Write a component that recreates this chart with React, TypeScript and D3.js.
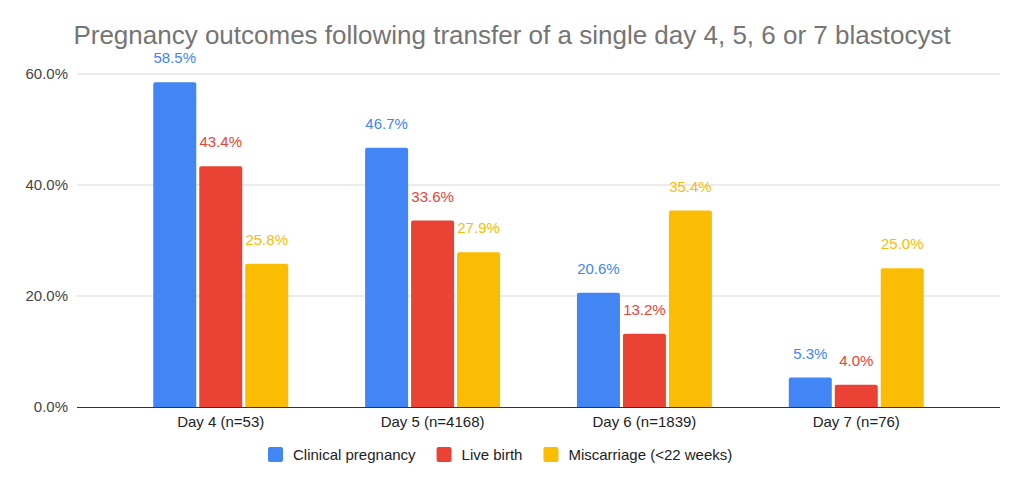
import React, { useEffect, useRef } from "react";
import * as d3 from "d3";

const categories = ["Day 4 (n=53)", "Day 5 (n=4168)", "Day 6 (n=1839)", "Day 7 (n=76)"];
const seriesNames = ["Clinical pregnancy", "Live birth", "Miscarriage (<22 weeks)"];
const clinicalPregnancy = [58.5, 46.7, 20.6, 5.3];
const liveBirth = [43.4, 33.6, 13.2, 4.0];
const miscarriage = [25.8, 27.9, 35.4, 25.0];
const yTicks = [0, 20, 40, 60];
const colors = ["#4285F4", "#EA4335", "#FBBC04"];

const W = 1024;
const H = 487;
const FONT = "Arial, 'Liberation Sans', sans-serif";

export default function App() {
  const ref = useRef<SVGSVGElement | null>(null);

  useEffect(() => {
    const svg = d3.select(ref.current);
    svg.selectAll("*").remove();

    const series = [clinicalPregnancy, liveBirth, miscarriage];
    const left = 77;
    const right = 1000;
    const top = 74;
    const bottom = 407;

    const y = d3.scaleLinear().domain([0, 60]).range([bottom, top]);
    const x0 = d3
      .scaleBand<string>()
      .domain(categories)
      .range([left, right])
      .paddingInner(0.363)
      .paddingOuter(0.36);
    const x1 = d3
      .scaleBand<number>()
      .domain([0, 1, 2])
      .range([0, x0.bandwidth()])
      .paddingInner(0.065)
      .paddingOuter(0);

    // Title
    svg
      .append("text")
      .attr("x", 512)
      .attr("y", 44)
      .attr("text-anchor", "middle")
      .attr("font-family", FONT)
      .attr("font-size", 26)
      .attr("fill", "#757575")
      .text("Pregnancy outcomes following transfer of a single day 4, 5, 6 or 7 blastocyst");

    // Gridlines and y tick labels
    const grid = svg.append("g");
    yTicks.forEach((t) => {
      if (t !== 0) {
        grid
          .append("line")
          .attr("x1", left)
          .attr("x2", right)
          .attr("y1", y(t))
          .attr("y2", y(t))
          .attr("stroke", "#d9d9d9")
          .attr("stroke-width", 1);
      }
      grid
        .append("text")
        .attr("x", 68)
        .attr("y", y(t) + 5)
        .attr("text-anchor", "end")
        .attr("font-family", FONT)
        .attr("font-size", 15)
        .attr("fill", "#444")
        .text(`${t.toFixed(1)}%`);
    });

    // Bars
    const r = 2;
    const bars = svg.append("g");
    categories.forEach((cat, ci) => {
      series.forEach((vals, si) => {
        const v = vals[ci];
        const bx = (x0(cat) ?? 0) + (x1(si) ?? 0);
        const bw = x1.bandwidth();
        const by = y(v);
        const bh = bottom - by;
        const p = d3.path();
        p.moveTo(bx, bottom);
        p.lineTo(bx, by + r);
        p.quadraticCurveTo(bx, by, bx + r, by);
        p.lineTo(bx + bw - r, by);
        p.quadraticCurveTo(bx + bw, by, bx + bw, by + r);
        p.lineTo(bx + bw, bottom);
        p.closePath();
        if (bh > 0) bars.append("path").attr("d", p.toString()).attr("fill", colors[si]);
        bars
          .append("text")
          .attr("x", bx + bw / 2)
          .attr("y", by - 19)
          .attr("text-anchor", "middle")
          .attr("font-family", FONT)
          .attr("font-size", 15)
          .attr("fill", colors[si])
          .text(`${v.toFixed(1)}%`);
      });
      svg
        .append("text")
        .attr("x", (x0(cat) ?? 0) + x0.bandwidth() / 2)
        .attr("y", 427)
        .attr("text-anchor", "middle")
        .attr("font-family", FONT)
        .attr("font-size", 15)
        .attr("fill", "#222")
        .text(cat);
    });

    // Baseline
    svg
      .append("line")
      .attr("x1", left)
      .attr("x2", right)
      .attr("y1", bottom + 0.5)
      .attr("y2", bottom + 0.5)
      .attr("stroke", "#333")
      .attr("stroke-width", 1);

    // Legend
    const legend = svg.append("g");
    let lx = 268;
    seriesNames.forEach((name, i) => {
      legend
        .append("rect")
        .attr("x", lx)
        .attr("y", 447)
        .attr("width", 15)
        .attr("height", 15)
        .attr("rx", 2)
        .attr("fill", colors[i]);
      const t = legend
        .append("text")
        .attr("x", lx + 25)
        .attr("y", 460)
        .attr("font-family", FONT)
        .attr("font-size", 15)
        .attr("fill", "#222")
        .text(name);
      const tw = (t.node() as SVGTextElement).getComputedTextLength();
      lx += 25 + tw + 21;
    });
  }, []);

  return (
    <svg
      ref={ref}
      width={W}
      height={H}
      style={{ position: "absolute", left: 0, top: 0, display: "block", background: "#fff" }}
    />
  );
}
